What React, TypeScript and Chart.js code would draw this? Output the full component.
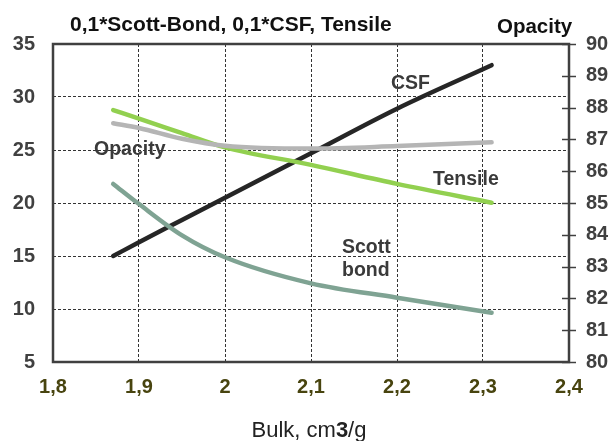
import React, { useEffect, useRef } from "react";
import { Chart, registerables } from "chart.js";

Chart.register(...registerables);

const bulk = [1.87, 1.9, 1.95, 2.0, 2.1, 2.2, 2.31];
const csf = [15.0, 16.3, 18.4, 20.5, 24.7, 28.9, 33.0];
const tensile = [28.77, 27.95, 26.6, 25.25, 23.6, 21.8, 20.03];
const scottBond = [21.8, 19.9, 16.95, 14.88, 12.42, 11.07, 9.65];
const opacity = [87.51, 87.36, 87.02, 86.8, 86.71, 86.79, 86.91];

const leftTicks = [5, 10, 15, 20, 25, 30, 35];
const rightTicks = [80, 81, 82, 83, 84, 85, 86, 87, 88, 89, 90];
const xTicks = [1.8, 1.9, 2.0, 2.1, 2.2, 2.3, 2.4];

const titleText = "0,1*Scott-Bond, 0,1*CSF, Tensile";
const rightTitleText = "Opacity";

const FONT = "'Liberation Sans', Arial, sans-serif";

const pts = (ys: number[]) => bulk.map((x, i) => ({ x, y: ys[i] }));

const decorPlugin = {
  id: "decor",
  afterDatasetsDraw(chart: any) {
    const { ctx, chartArea: a, scales } = chart;
    ctx.save();
    // right axis cross ticks
    ctx.strokeStyle = "#404040";
    ctx.lineWidth = 1.5;
    const yr = scales.yR;
    rightTicks.forEach((v) => {
      const py = Math.round(yr.getPixelForValue(v)) + 0.5;
      ctx.beginPath();
      ctx.moveTo(a.right - 7, py);
      ctx.lineTo(a.right + 7, py);
      ctx.stroke();
    });
    // frame
    ctx.lineWidth = 2.5;
    ctx.strokeStyle = "#404040";
    ctx.strokeRect(a.left, a.top, a.right - a.left, a.bottom - a.top);

    // titles
    ctx.fillStyle = "#111";
    ctx.textBaseline = "alphabetic";
    ctx.textAlign = "left";
    ctx.font = `bold 21px ${FONT}`;
    ctx.fillText(titleText, 70, 31);
    ctx.font = `bold 20.5px ${FONT}`;
    ctx.fillText(rightTitleText, 497, 33);

    // annotations
    ctx.fillStyle = "#3a3a3a";
    ctx.textBaseline = "middle";
    ctx.font = `bold 19.5px ${FONT}`;
    ctx.fillText("Opacity", 94, 150);
    ctx.fillText("CSF", 391, 84);
    ctx.fillText("Tensile", 433, 180);
    ctx.fillText("Scott", 342, 248);
    ctx.fillText("bond", 342, 271);

    // x axis title with bold 3
    ctx.fillStyle = "#222";
    ctx.textBaseline = "alphabetic";
    const p1 = "Bulk, cm";
    const p2 = "3";
    const p3 = "/g";
    ctx.font = `22px ${FONT}`;
    const w1 = ctx.measureText(p1).width;
    const w3 = ctx.measureText(p3).width;
    ctx.font = `bold 22px ${FONT}`;
    const w2 = ctx.measureText(p2).width;
    const total = w1 + w2 + w3;
    const x0 = 309 - total / 2;
    ctx.font = `22px ${FONT}`;
    ctx.fillText(p1, x0, 437);
    ctx.font = `bold 22px ${FONT}`;
    ctx.fillText(p2, x0 + w1, 437);
    ctx.font = `22px ${FONT}`;
    ctx.fillText(p3, x0 + w1 + w2, 437);
    ctx.restore();
  },
};

export default function App() {
  const ref = useRef<HTMLCanvasElement | null>(null);
  useEffect(() => {
    document.body.style.margin = "0";
    const canvas = ref.current!;
    const lineDs = (label: string, ys: number[], color: string, axis: string) => ({
      label,
      data: pts(ys),
      borderColor: color,
      backgroundColor: color,
      borderWidth: 4.5,
      pointRadius: 0,
      borderCapStyle: "round" as const,
      cubicInterpolationMode: "monotone" as const,
      yAxisID: axis,
      fill: false,
    });
    const chart = new Chart(canvas, {
      type: "line",
      data: {
        datasets: [
          lineDs("Scott bond", scottBond, "#7fa393", "y"),
          lineDs("Opacity", opacity, "#b5b5b5", "yR"),
          lineDs("Tensile", tensile, "#92d050", "y"),
          lineDs("CSF", csf, "#262626", "y"),
        ],
      },
      options: {
        animation: false,
        responsive: true,
        maintainAspectRatio: false,
        devicePixelRatio: 1,
        layout: { padding: { top: 44, left: 0, right: 0, bottom: 0 } },
        plugins: { legend: { display: false }, tooltip: { enabled: false } },
        scales: {
          x: {
            type: "linear",
            min: xTicks[0],
            max: xTicks[xTicks.length - 1],
            afterBuildTicks: (s: any) => {
              s.ticks = xTicks.map((v) => ({ value: v }));
            },
            afterFit: (s: any) => {
              s.height = 79;
            },
            ticks: {
              padding: 13,
              color: "#48440f",
              font: { family: FONT, size: 20, weight: "bold" },
              callback: (v: any) => {
                const n = Number(v);
                const s = Math.abs(n - Math.round(n)) < 1e-6 ? String(Math.round(n)) : n.toFixed(1);
                return s.replace(".", ",");
              },
              maxRotation: 0,
              autoSkip: false,
            },
            grid: { color: "#333", lineWidth: 1, drawTicks: false },
            border: { display: false, dash: [3, 2] },
          },
          y: {
            type: "linear",
            position: "left",
            min: leftTicks[0],
            max: leftTicks[leftTicks.length - 1],
            afterBuildTicks: (s: any) => {
              s.ticks = leftTicks.map((v) => ({ value: v }));
            },
            afterFit: (s: any) => {
              s.width = 53;
            },
            ticks: {
              padding: 18,
              color: "#404040",
              font: { family: FONT, size: 20, weight: "bold" },
            },
            grid: { color: "#333", lineWidth: 1, drawTicks: false },
            border: { display: false, dash: [3, 2] },
          },
          yR: {
            type: "linear",
            position: "right",
            min: rightTicks[0],
            max: rightTicks[rightTicks.length - 1],
            afterBuildTicks: (s: any) => {
              s.ticks = rightTicks.map((v) => ({ value: v }));
            },
            afterFit: (s: any) => {
              s.width = 43;
            },
            ticks: {
              padding: 17,
              color: "#404040",
              font: { family: FONT, size: 20, weight: "bold" },
            },
            grid: { drawOnChartArea: false, drawTicks: false },
            border: { display: false },
          },
        },
      },
      plugins: [decorPlugin],
    } as any);
    return () => chart.destroy();
  }, []);
  return (
    <div style={{ width: 612, height: 441, position: "relative", background: "#fff" }}>
      <canvas ref={ref} />
    </div>
  );
}
